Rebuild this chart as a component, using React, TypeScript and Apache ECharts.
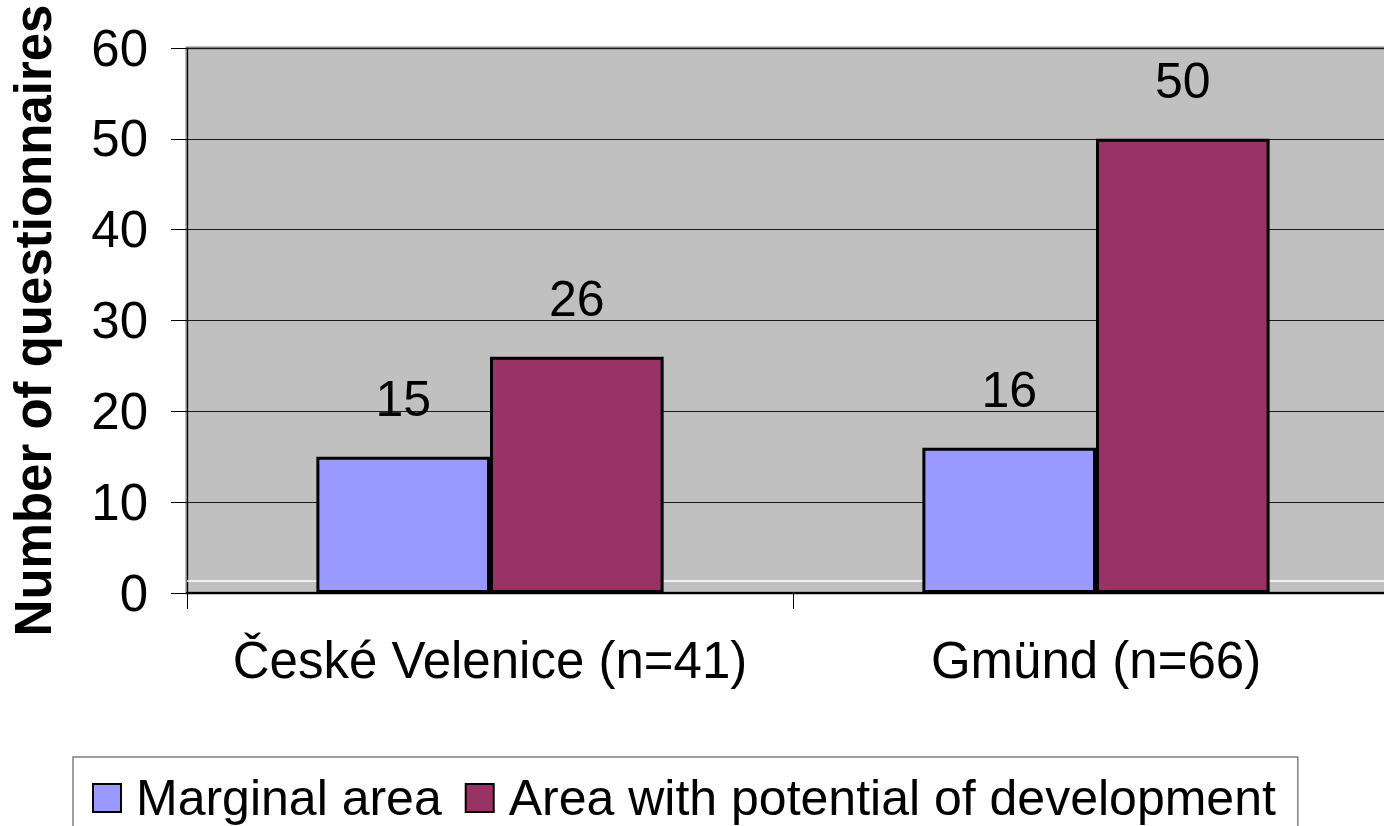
import React, { useEffect, useRef } from "react";
import * as echarts from "echarts";

const categories = ["České Velenice (n=41)", "Gmünd (n=66)"];
const seriesNames = ["Marginal area", "Area with potential of development"];
const marginalValues = [15, 16];
const potentialValues = [26, 50];
const seriesColors = ["#9999FF", "#993366"];
const yTicks = { min: 0, max: 60, interval: 10 };
const whiteLineValue = 1.4;

const FONT = "'Liberation Sans', Arial, sans-serif";

export default function App() {
  const ref = useRef<HTMLDivElement>(null);

  useEffect(() => {
    document.body.style.margin = "0";
    if (!ref.current) return;
    const chart = echarts.init(ref.current, undefined, { renderer: "svg" });
    const labelStyle = {
      show: true,
      position: "top",
      distance: 33,
      color: "#000",
      fontSize: 50,
      fontFamily: FONT,
    };
    chart.setOption({
      animation: false,
      backgroundColor: "#ffffff",
      grid: {
        left: 187,
        top: 48,
        width: 1212,
        bottom: 233,
        show: true,
        backgroundColor: "#C0C0C0",
        borderColor: "#808080",
        borderWidth: 3,
        containLabel: false,
      },
      legend: {
        left: 73,
        top: 757,
        orient: "horizontal",
        padding: [16, 22, 40, 19],
        borderColor: "#808080",
        borderWidth: 1.5,
        backgroundColor: "#ffffff",
        itemWidth: 28,
        itemHeight: 28,
        itemGap: 23,
        icon: "rect",
        textStyle: {
          fontSize: 50,
          lineHeight: 44,
          fontFamily: FONT,
          color: "#000",
          padding: [0, 0, 0, 10],
        },
        data: seriesNames,
      },
      xAxis: {
        type: "category",
        data: categories,
        axisLine: { show: true, lineStyle: { color: "#000", width: 2 } },
        axisTick: { show: true, length: 16, lineStyle: { color: "#000", width: 1 } },
        axisLabel: {
          interval: 0,
          fontSize: 51,
          fontFamily: FONT,
          color: "#000",
          margin: 42,
        },
      },
      yAxis: {
        type: "value",
        min: yTicks.min,
        max: yTicks.max,
        interval: yTicks.interval,
        name: "Number of questionnaires",
        nameLocation: "middle",
        nameRotate: 90,
        nameGap: 128,
        nameTextStyle: {
          fontSize: 51,
          fontWeight: "bold",
          fontFamily: FONT,
          color: "#000",
        },
        axisLine: { show: true, lineStyle: { color: "#000", width: 1 } },
        axisTick: { show: true, length: 16, lineStyle: { color: "#000", width: 1 } },
        axisLabel: {
          fontSize: 51,
          fontFamily: FONT,
          color: "#000",
          margin: 39,
        },
        splitLine: { show: true, lineStyle: { color: "#1a1a1a", width: 1 } },
      },
      series: [
        {
          name: seriesNames[0],
          type: "bar",
          data: marginalValues,
          barGap: "0%",
          barCategoryGap: "42.7%",
          itemStyle: { color: seriesColors[0], borderColor: "#000", borderWidth: 3 },
          label: labelStyle,
          z: 3,
          markLine: {
            silent: true,
            symbol: "none",
            z: 1,
            label: { show: false },
            lineStyle: { color: "#ffffff", width: 1.5, type: "solid" },
            data: [{ yAxis: whiteLineValue }],
          },
        },
        {
          name: seriesNames[1],
          type: "bar",
          data: potentialValues,
          barGap: "0%",
          barCategoryGap: "42.7%",
          itemStyle: { color: seriesColors[1], borderColor: "#000", borderWidth: 3 },
          label: labelStyle,
          z: 3,
        },
      ],
    });
    return () => chart.dispose();
  }, []);

  return (
    <div style={{ width: 1384, height: 826, overflow: "hidden" }}>
      <div ref={ref} style={{ width: 1400, height: 826 }} />
    </div>
  );
}
